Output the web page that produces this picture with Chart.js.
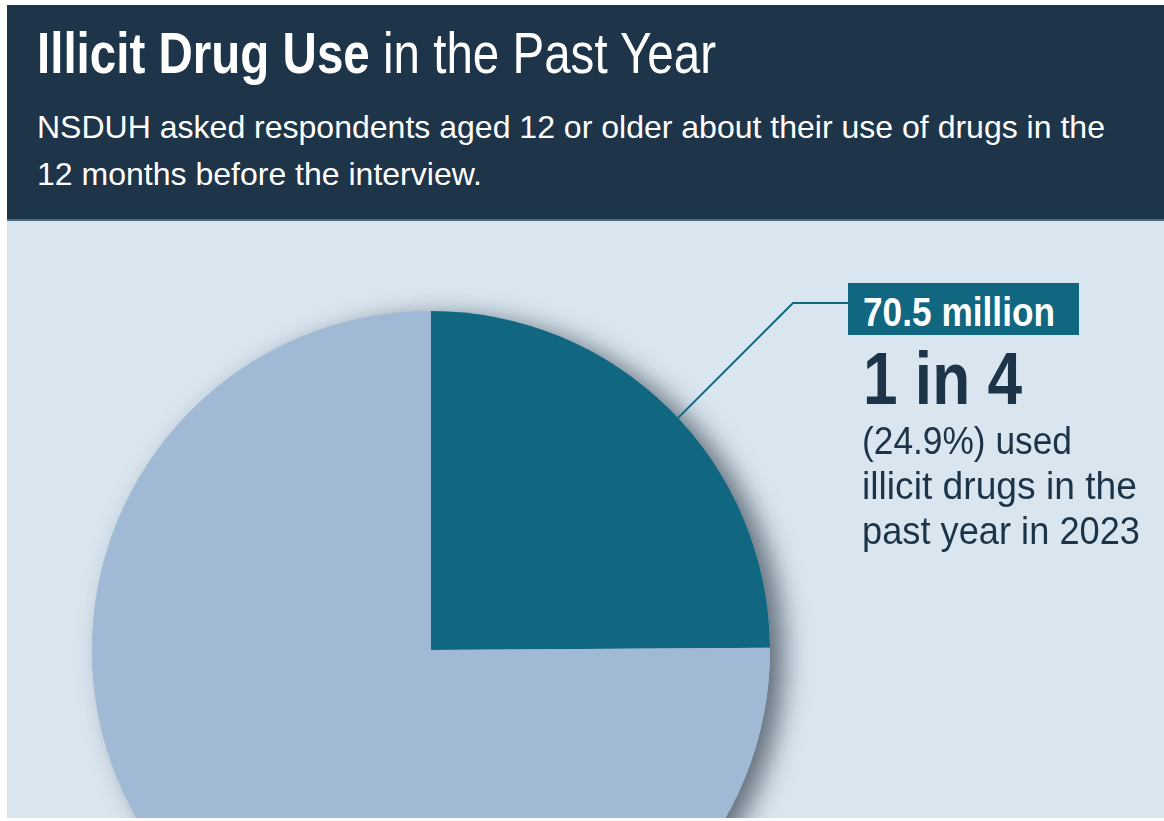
<!DOCTYPE html>
<html>
<head>
<meta charset="utf-8">
<script src="https://cdn.jsdelivr.net/npm/chart.js@4.4.1/dist/chart.umd.min.js"></script>
<style>
  html, body { margin: 0; padding: 0; background: #ffffff; }
  body { width: 1164px; height: 821px; position: relative; overflow: hidden;
         font-family: "Liberation Sans", Arial, sans-serif; }
  .line { display: inline-block; white-space: nowrap; transform-origin: 0 0; }
  #header { position: absolute; left: 7px; top: 5px; width: 1157px; height: 214px;
            background: #1e3449; border-bottom: 2px solid #4f6a80; }
  #title { position: absolute; left: 30px; top: 19px; margin: 0; color: #fff;
           font-size: 58px; font-weight: 400; line-height: 58px; }
  #title b { font-weight: 700; }
  #subtitle { position: absolute; left: 30px; top: 99px; margin: 0; color: #fff;
              font-size: 32px; line-height: 47px; white-space: nowrap; }
  #panel { position: absolute; left: 7px; top: 221px; width: 1157px; height: 597px;
           background: #d9e6f0; overflow: hidden; }
  #pie { position: absolute; left: 0; top: 0; }
  #badge { position: absolute; left: 841px; top: 62px; width: 231px; height: 52px;
           background: #116680; }
  #badgeText { position: absolute; left: 856px; top: 71px; color: #fff; font-weight: 700;
               font-size: 40px; line-height: 40px; }
  #ratio { position: absolute; left: 856px; top: 120px; color: #1d3448; font-weight: 700;
           font-size: 75px; line-height: 75px; }
  #note { position: absolute; left: 855px; top: 197px; color: #1d3448; font-size: 39px;
          line-height: 45px; white-space: nowrap; }
</style>
</head>
<body>
<div id="header">
  <h1 id="title"><span class="line" data-fit="679"><b>Illicit Drug Use</b> in the Past Year</span></h1>
  <p id="subtitle"><span class="line" data-fit="1068" data-group="sub">NSDUH asked respondents aged 12 or older about their use of drugs in the</span><br><span class="line" data-group="sub">12 months before the interview.</span></p>
</div>
<div id="panel">
  <canvas id="pie" width="1157" height="820"></canvas>
  <div id="badge"></div>
  <div id="badgeText"><span class="line" data-fit="192">70.5 million</span></div>
  <div id="ratio"><span class="line" data-fit="159">1 in 4</span></div>
  <div id="note"><span class="line" data-fit="210">(24.9%) used</span><br><span class="line" data-fit="275">illicit drugs in the</span><br><span class="line" data-fit="278">past year in 2023</span></div>
</div>
<script>
// Past-year illicit drug use, people aged 12 or older, 2023 (percent)
const categories = ['Used illicit drugs in the past year', 'Did not use illicit drugs in the past year'];
const percentValues = [24.9, 75.1];
const sliceColors = ['#116680', '#a0bad6'];

// Condense the text lines horizontally to their set widths
document.querySelectorAll('.line[data-fit]').forEach(el => {
  const s = Number(el.dataset.fit) / el.getBoundingClientRect().width;
  const group = el.dataset.group;
  const targets = group ? document.querySelectorAll('.line[data-group="' + group + '"]') : [el];
  targets.forEach(t => { t.style.transform = 'scaleX(' + s.toFixed(4) + ')'; });
});

// Soft drop shadow under the whole disc, drawn once before the slices
const discShadow = {
  id: 'discShadow',
  beforeDatasetsDraw(chart) {
    const arc = chart.getDatasetMeta(0).data[0];
    if (!arc) return;
    const ctx = chart.ctx;
    ctx.save();
    ctx.shadowColor = 'rgba(20, 32, 44, 0.6)';
    ctx.shadowBlur = 26;
    ctx.shadowOffsetX = 14;
    ctx.shadowOffsetY = 6;
    ctx.fillStyle = '#a0bad6';
    ctx.beginPath();
    ctx.arc(arc.x, arc.y, arc.outerRadius, 0, Math.PI * 2);
    ctx.fill();
    ctx.restore();
  }
};

// Leader line: 45° stroke from the rim of the highlighted slice up to an elbow, then across to the badge
const leader = {
  id: 'leader',
  afterDatasetsDraw(chart) {
    const arc = chart.getDatasetMeta(0).data[0];
    if (!arc) return;
    const badge = document.getElementById('badge');
    const bx = badge.offsetLeft;
    const by = badge.offsetTop + 20;
    const ex = bx - 55;
    // walk down-left from the elbow until the rim is reached
    const dx = ex - arc.x, dy = by - arc.y, r = arc.outerRadius;
    // |(dx - t, dy + t)| = r  ->  2t^2 + 2t(dy - dx) + dx^2 + dy^2 - r^2 = 0
    const A = 2, B = 2 * (dy - dx), C = dx * dx + dy * dy - r * r;
    const t = (-B - Math.sqrt(B * B - 4 * A * C)) / (2 * A);
    const sx = ex - t, sy = by + t;
    const ctx = chart.ctx;
    ctx.save();
    ctx.strokeStyle = '#116680';
    ctx.lineWidth = 2;
    ctx.beginPath();
    ctx.moveTo(sx, sy);
    ctx.lineTo(ex, by);
    ctx.lineTo(bx, by);
    ctx.stroke();
    ctx.restore();
  }
};

new Chart(document.getElementById('pie'), {
  type: 'pie',
  data: {
    labels: categories,
    datasets: [{
      data: percentValues,
      backgroundColor: sliceColors,
      borderWidth: 0,
      hoverOffset: 0
    }]
  },
  options: {
    responsive: false,
    devicePixelRatio: 1,
    animation: false,
    rotation: 0,
    layout: { padding: { left: 85, right: 394, top: 90, bottom: 52 } },
    plugins: { legend: { display: false }, tooltip: { enabled: false } }
  },
  plugins: [discShadow, leader]
});
</script>
</body>
</html>
